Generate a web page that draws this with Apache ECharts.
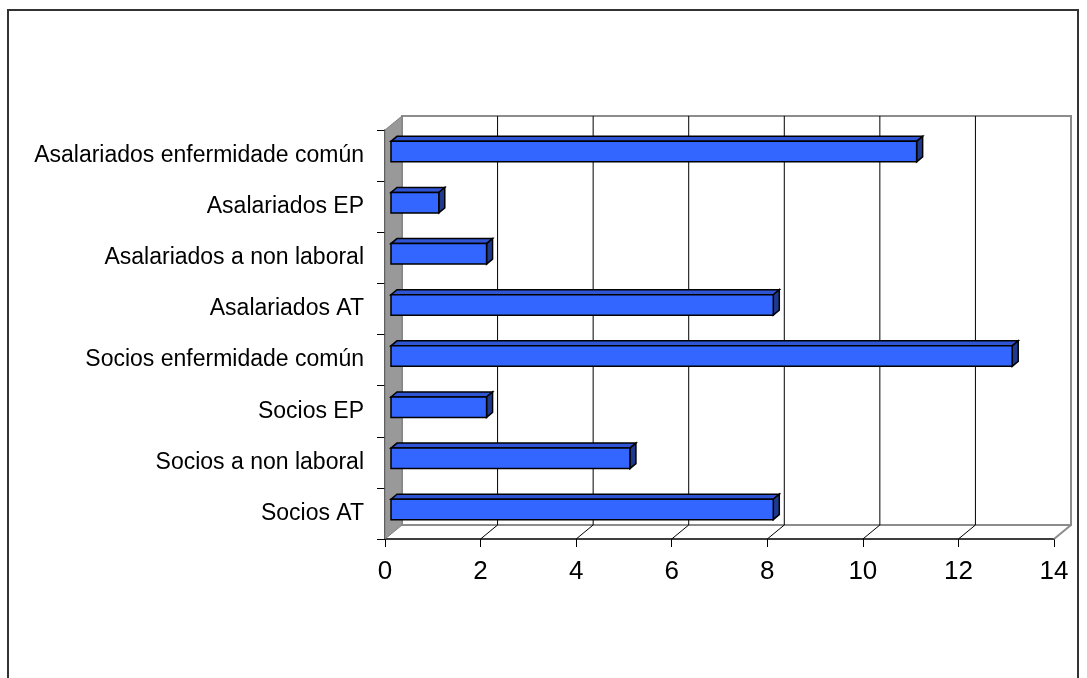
<!DOCTYPE html>
<html>
<head>
<meta charset="utf-8">
<script src="https://cdn.jsdelivr.net/npm/echarts@6/dist/echarts.min.js"></script>
<style>
html,body{margin:0;padding:0;background:#fff;}
#chart{width:1087px;height:678px;}
</style>
</head>
<body>
<div id="chart"></div>
<script>
const categories = ['Socios AT', 'Socios a non laboral', 'Socios EP', 'Socios enfermidade común',
  'Asalariados AT', 'Asalariados a non laboral', 'Asalariados EP', 'Asalariados enfermidade común'];
const values = [8, 5, 2, 13, 8, 2, 1, 11];
const xTicks = [0, 2, 4, 6, 8, 10, 12, 14];

const DX = 17, DY = -14;

function renderFrame(params, api) {
  const band = api.size([0, 1])[1];
  const yBottom = api.coord([0, 0])[1] + band / 2;
  const yTop = api.coord([0, categories.length - 1])[1] - band / 2;
  const X = v => api.coord([v, 0])[0];
  const xmin = xTicks[0], xmax = xTicks[xTicks.length - 1];
  const ch = [];
  ch.push({type: 'rect', shape: {x: X(xmin) + DX, y: yTop + DY, width: X(xmax) - X(xmin), height: yBottom - yTop},
    style: {fill: '#ffffff', stroke: '#8c8c8c', lineWidth: 2}});
  ch.push({type: 'polygon', shape: {points: [[X(xmin), yTop], [X(xmin) + DX, yTop + DY], [X(xmin) + DX, yBottom + DY], [X(xmin), yBottom]]},
    style: {fill: '#999999', stroke: '#7f7f7f', lineWidth: 1}});
  ch.push({type: 'line', shape: {x1: X(xmin) + DX, y1: yBottom + DY, x2: X(xmax) + DX, y2: yBottom + DY},
    style: {stroke: '#8c8c8c', lineWidth: 2}});
  xTicks.forEach((v, i) => {
    if (i > 0 && i < xTicks.length - 1) {
      ch.push({type: 'line', shape: {x1: X(v) + DX, y1: yTop + DY, x2: X(v) + DX, y2: yBottom + DY},
        style: {stroke: '#000000', lineWidth: 1}});
    }
    if (i > 0) {
      ch.push({type: 'line', shape: {x1: X(v), y1: yBottom, x2: X(v) + DX, y2: yBottom + DY},
        style: {stroke: i === xTicks.length - 1 ? '#8c8c8c' : '#000000', lineWidth: i === xTicks.length - 1 ? 2 : 1}});
    }
  });
  return {type: 'group', children: ch};
}

function renderBar(params, api) {
  const v = api.value(0), idx = api.value(1);
  const p0 = api.coord([0, idx]);
  const x1 = api.coord([v, idx])[0];
  const band = api.size([0, 1])[1];
  const h = band * 0.4;
  const ox = 6, oy = -4, dx = 6, dy = -5;
  const L = p0[0] + ox, R = x1 + ox, T = p0[1] + oy - h / 2, B = p0[1] + oy + h / 2;
  const st = {stroke: '#000000', lineWidth: 1.5, lineJoin: 'miter'};
  return {type: 'group', children: [
    {type: 'polygon', shape: {points: [[L, T], [R, T], [R + dx, T + dy], [L + dx, T + dy]]},
      style: Object.assign({fill: '#2f55d4'}, st)},
    {type: 'polygon', shape: {points: [[R, T], [R + dx, T + dy], [R + dx, B + dy], [R, B]]},
      style: Object.assign({fill: '#1f3a8c'}, st)},
    {type: 'rect', shape: {x: L, y: T, width: R - L, height: B - T},
      style: Object.assign({fill: '#3366ff'}, st)}
  ]};
}

const chart = echarts.init(document.getElementById('chart'), null, {renderer: 'canvas'});
chart.setOption({
  backgroundColor: '#ffffff',
  animation: false,
  graphic: [{type: 'rect', shape: {x: 8, y: 10, width: 1070, height: 700},
    style: {fill: 'none', stroke: '#333333', lineWidth: 2}, silent: true, z: -10}],
  grid: {left: 385, top: 130, width: 669, height: 409, containLabel: false},
  xAxis: {
    type: 'value', min: 0, max: 14, interval: 2,
    axisLine: {show: true, lineStyle: {color: '#000', width: 1.5}},
    axisTick: {show: true, length: 8, lineStyle: {color: '#000', width: 1}},
    axisLabel: {fontSize: 26, color: '#000', margin: 20, fontFamily: 'Liberation Sans, Arial, sans-serif'},
    splitLine: {show: false}
  },
  yAxis: {
    type: 'category', data: categories,
    axisLine: {show: true, lineStyle: {color: '#000', width: 1.5}},
    axisTick: {show: true, length: 8, lineStyle: {color: '#000', width: 1}},
    axisLabel: {fontSize: 23, color: '#000', margin: 21, fontFamily: 'Liberation Sans, Arial, sans-serif'},
    splitLine: {show: false}
  },
  series: [
    {type: 'custom', renderItem: renderFrame, data: [[0, 0]], z: 1, clip: false, silent: true},
    {type: 'custom', renderItem: renderBar, data: values.map((v, i) => [v, i]), z: 3, clip: false,
      encode: {x: 0, y: 1}}
  ]
});
</script>
</body>
</html>
